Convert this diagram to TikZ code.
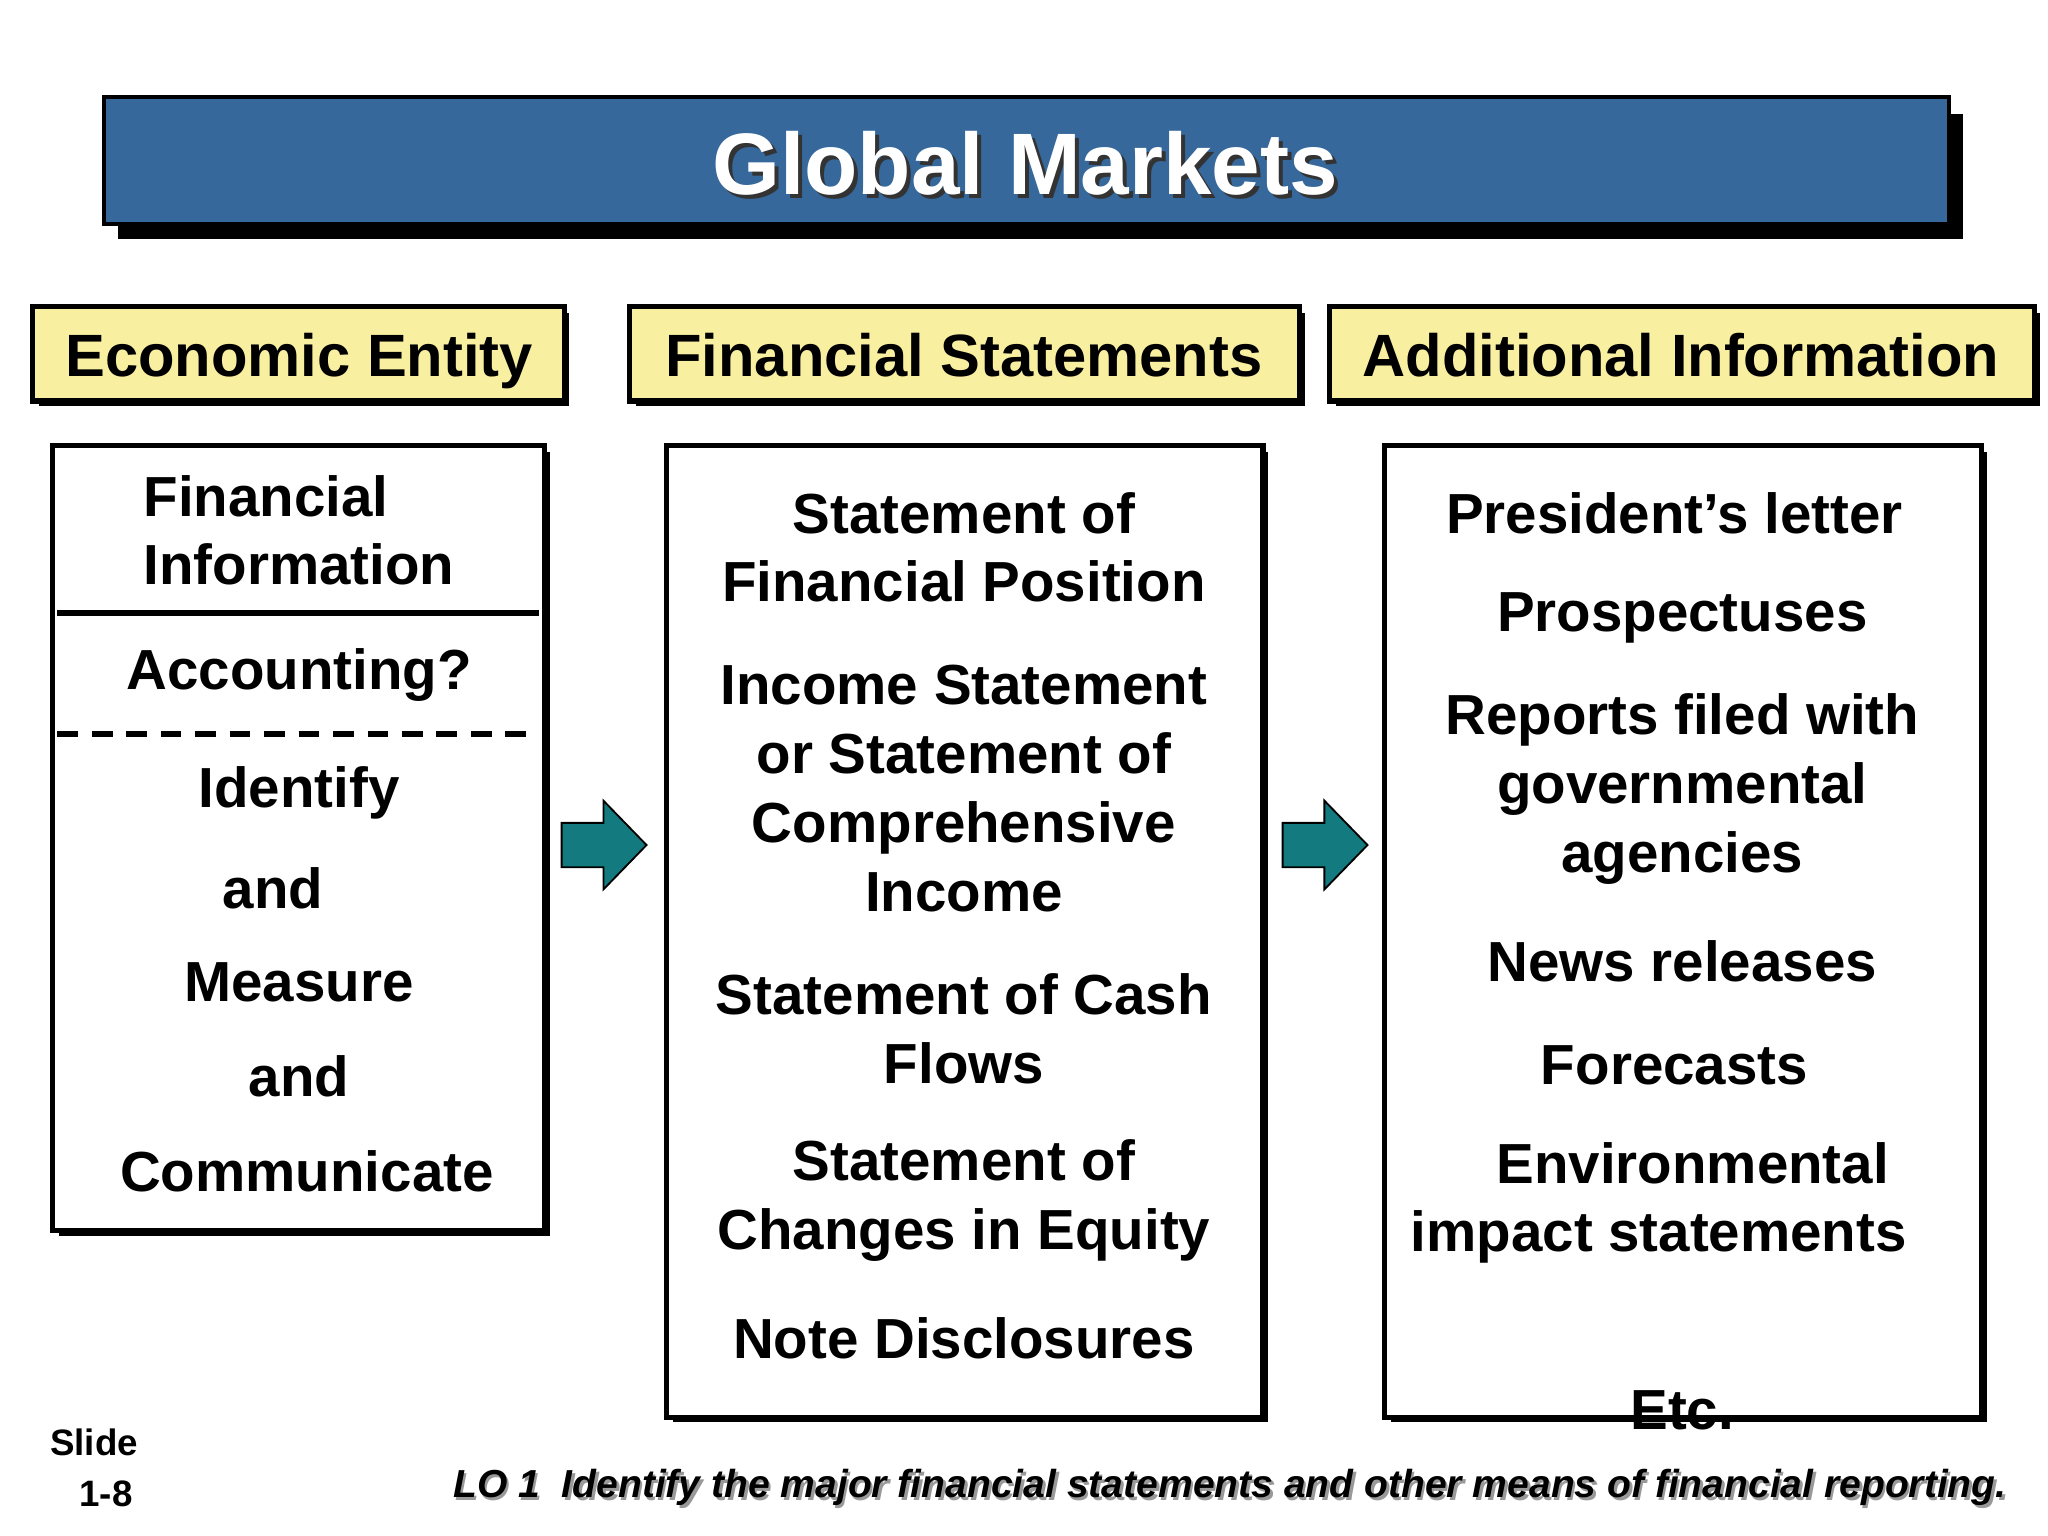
\documentclass[tikz,border=0pt]{standalone}
\usepackage{fontspec}
\setmainfont{Liberation Sans}
\definecolor{tblue}{HTML}{36689B}
\definecolor{hyel}{HTML}{F8EFA0}
\definecolor{teal2}{HTML}{137B80}
\tikzset{
 body/.style={font=\bfseries\fontsize{12.3}{15}\selectfont,align=center,inner sep=0},
 head/.style={font=\bfseries\fontsize{13}{16}\selectfont,inner sep=0},
 frame/.style={draw=black,line width=1.1pt,fill=white},
 barrow/.style={draw=black,line width=0.4pt,fill=teal2}
}
\begin{document}
\begin{tikzpicture}[x=0.01cm,y=-0.01cm]
\useasboundingbox (0,0) rectangle (1568,1176);
% title
\fill (90,87) rectangle (1503,183);
\node[draw=black,line width=0.8pt,fill=tblue,minimum width=14.12cm,minimum height=0.97cm,anchor=north west,inner sep=0] (title) at (78,73) {};
\node[font=\bfseries\fontsize{19}{24}\selectfont,text=black!80] at (788,128) {Global Markets};
\node[font=\bfseries\fontsize{19}{24}\selectfont,text=white] (tt) at (785,125) {Global Markets};
% headers
\fill (30,240) rectangle (436,311);
\fill (487,240) rectangle (999,311);
\fill (1023,240) rectangle (1562,311);
\draw[frame,fill=hyel] (25,235) rectangle (432,307);
\draw[frame,fill=hyel] (482,235) rectangle (995,307);
\draw[frame,fill=hyel] (1018,235) rectangle (1558,307);
\node[head,anchor=base] (h1) at (229,288) {Economic Entity};
\node[head,anchor=base] (h2) at (738,288) {Financial Statements};
\node[head,anchor=base] (h3) at (1287,288) {Additional Information};
% boxes
\fill (45,346) rectangle (421,946);
\fill (515,346) rectangle (971,1089);
\fill (1065,346) rectangle (1521,1089);
\draw[frame] (40,341) rectangle (417,942);
\draw[frame] (510,341) rectangle (967,1085);
\draw[frame] (1060,341) rectangle (1517,1085);
\draw[line width=1.3pt] (44,469) -- (413,469);
\draw[line width=1.3pt,dash pattern=on 4.5pt off 3pt] (44,562) -- (413,562);
% box1 text
\node[body,align=left] (fi) at (229,406) {Financial\\ Information};
\node[body] (acc) at (229,517) {Accounting?};
\node[body] (id) at (229,607) {Identify};
\node[body] (a1) at (209,680) {and};
\node[body] (me) at (229,752) {Measure};
\node[body] (a2) at (229,824) {and};
\node[body] (co) at (235,897) {Communicate};
% box2 text
\node[body] (s1) at (738,419) {Statement of\\Financial Position};
\node[body] (s2) at (738,604) {Income Statement\\or Statement of\\Comprehensive\\Income};
\node[body] (s3) at (738,788) {Statement of Cash\\Flows};
\node[body] (s4) at (738,919) {Statement of\\Changes in Equity};
\node[body] (s5) at (738,1025) {Note Disclosures};
% box3 text
\node[body] (p1) at (1282,393) {President’s letter};
\node[body] (p2) at (1288,473) {Prospectuses};
\node[body] (p3) at (1288,604) {Reports filed with\\governmental\\agencies};
\node[body] (p4) at (1288,736) {News releases};
\node[body] (p5) at (1282,816) {Forecasts};
\node[body] (p6) at (1270,921) {\hspace*{1.2em}Environmental\\impact statements};
\node[body] (p7) at (1288,1080) {Etc.};
% arrows
\draw[barrow] (430,630) -- (462,630) -- (462,613) -- (495,647) -- (462,681) -- (462,664) -- (430,664) -- cycle;
\draw[barrow] (982,630) -- (1014,630) -- (1014,613) -- (1047,647) -- (1014,681) -- (1014,664) -- (982,664) -- cycle;
% footer
\node[font=\bfseries\fontsize{8}{10}\selectfont,align=left,inner sep=0] (sl) at (72,1124) {Slide\\[1pt]\hspace*{0.8em}1-8};
\node[font=\bfseries\itshape\fontsize{8.5}{12}\selectfont,anchor=east,inner sep=0,text=black!40] at (1539,1141) {LO 1\ \ Identify the major financial statements and other means of financial reporting.};
\node[font=\bfseries\itshape\fontsize{8.5}{12}\selectfont,anchor=east,inner sep=0] (lo) at (1537,1139) {LO 1\ \ Identify the major financial statements and other means of financial reporting.};
\end{tikzpicture}
\end{document}
